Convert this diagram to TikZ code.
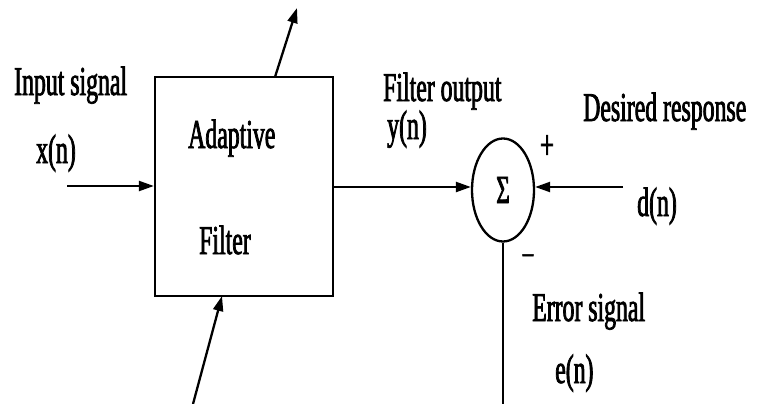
\documentclass[tikz,border=0pt]{standalone}
\usepackage{fontspec}
\setmainfont{Liberation Serif}[FakeStretch=0.58,FakeBold=1.8]
\usetikzlibrary{arrows.meta,shapes.geometric}
\begin{document}
\begin{tikzpicture}[x=1pt,y=-1pt,
  lbl/.style={inner sep=0pt,anchor=base west,font=\fontsize{41}{43}\selectfont},
  conn/.style={line width=2.3pt},
  arr/.style={conn,-{Triangle[length=15pt,width=10pt]}}]
\useasboundingbox (0,0) rectangle (760,404);
\node[draw,line width=2.3pt,minimum width=178pt,minimum height=219pt,inner sep=0pt] (af) at (244,186.5) {};
\node[draw,line width=2.3pt,ellipse,minimum width=62pt,minimum height=103pt,inner sep=0pt] (sum) at (503,190) {};
\node[inner sep=0pt,font=\fontsize{40}{40}\selectfont] (sig) at (503,190) {Σ};
\coordinate (xin) at (67,186);
\coordinate (din) at (623,187);
\coordinate (eout) at (503,404);
\coordinate (top) at (297,8);
\coordinate (topb) at (275,77);
\coordinate (bot) at (193,404);
\coordinate (botb) at (222,296);
\draw[arr] (xin) -- (af.west |- xin);
\draw[arr] (af.east |- 0,187) -- (sum.west |- 0,187);
\draw[arr] (din) -- (sum.east |- din);
\draw[conn] (sum.south) -- (eout);
\draw[arr] (topb) -- (top);
\draw[arr] (bot) -- (botb);
\node[lbl] (l1) at (14,95) {Input signal};
\node[lbl] (l2) at (36,163) {x(n)};
\node[lbl] (l3) at (188,148) {Adaptive};
\node[lbl] (l4) at (199,254) {Filter};
\node[lbl] (l5) at (383,101) {Filter output};
\node[lbl] (l6) at (387,139) {y(n)};
\node[lbl] (l7) at (583,121) {Desired response};
\node[lbl] (l8) at (637,216) {d(n)};
\node[lbl] (l9) at (532,321) {Error signal};
\node[lbl] (l10) at (555,383) {e(n)};
\node[inner sep=0pt,font=\fontsize{42}{42}\selectfont] (plus) at (547,147) {+};
\node[inner sep=0pt,font=\fontsize{36}{36}\selectfont] (minus) at (528,259) {–};
\end{tikzpicture}
\end{document}
